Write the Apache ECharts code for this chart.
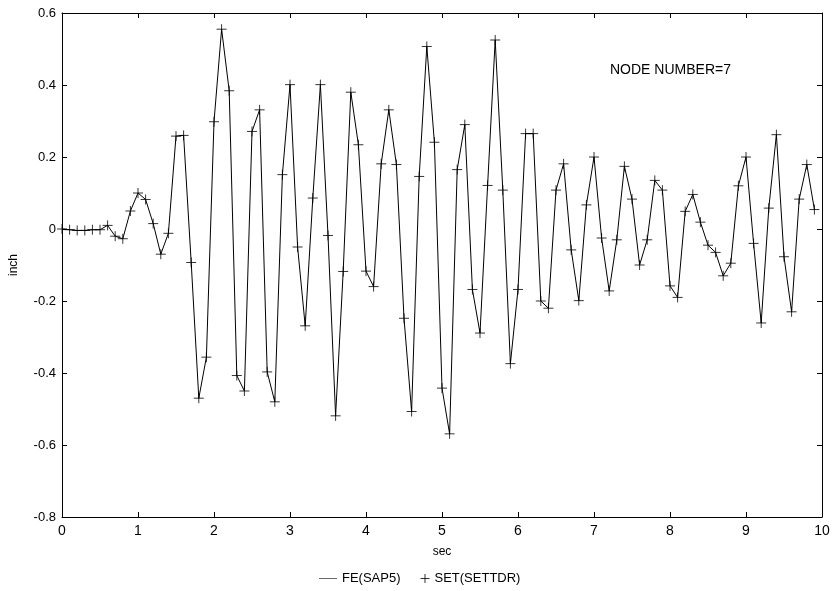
<!DOCTYPE html>
<html>
<head>
<meta charset="utf-8">
<script src="https://cdn.jsdelivr.net/npm/echarts@6/dist/echarts.min.js"></script>
<style>html,body{margin:0;padding:0;background:#fff}#c{width:833px;height:591px}</style>
</head>
<body>
<div id="c"></div>
<script>
const timeSec = [0,0.1,0.2,0.3,0.4,0.5,0.6,0.7,0.8,0.9,
1.0,1.1,1.2,1.3,1.4,1.5,1.6,1.7,1.8,1.9,
2.0,2.1,2.2,2.3,2.4,2.5,2.6,2.7,2.8,2.9,
3.0,3.1,3.2,3.3,3.4,3.5,3.6,3.7,3.8,3.9,
4.0,4.1,4.2,4.3,4.4,4.5,4.6,4.7,4.8,4.9,
5.0,5.1,5.2,5.3,5.4,5.5,5.6,5.7,5.8,5.9,
6.0,6.1,6.2,6.3,6.4,6.5,6.6,6.7,6.8,6.9,
7.0,7.1,7.2,7.3,7.4,7.5,7.6,7.7,7.8,7.9,
8.0,8.1,8.2,8.3,8.4,8.5,8.6,8.7,8.8,8.9,
9.0,9.1,9.2,9.3,9.4,9.5,9.6,9.7,9.8,9.9];
const feSap5 = [0,-0.002,-0.004,-0.004,-0.002,-0.002,0.01,-0.02,-0.027,0.05,
0.10,0.082,0.015,-0.07,-0.012,0.258,0.26,-0.093,-0.47,-0.356,
0.298,0.555,0.384,-0.407,-0.45,0.271,0.331,-0.397,-0.48,0.151,
0.401,-0.05,-0.269,0.086,0.401,-0.018,-0.519,-0.118,0.38,0.234,
-0.117,-0.16,0.181,0.331,0.179,-0.248,-0.507,0.146,0.507,0.241,
-0.442,-0.569,0.165,0.29,-0.168,-0.289,0.121,0.525,0.108,-0.374,
-0.168,0.265,0.265,-0.2,-0.22,0.108,0.181,-0.058,-0.199,0.067,
0.2,-0.025,-0.172,-0.03,0.174,0.083,-0.1,-0.03,0.135,0.108,
-0.158,-0.19,0.049,0.096,0.019,-0.045,-0.065,-0.13,-0.095,0.12,
0.2,-0.04,-0.261,0.058,0.262,-0.077,-0.23,0.083,0.179,0.054];
const setSettdr = feSap5.slice();
const xTicks = [0,1,2,3,4,5,6,7,8,9,10];
const yTicks = [-0.8,-0.6,-0.4,-0.2,0,0.2,0.4,0.6];
const seriesNames = ['FE(SAP5)','SET(SETTDR)'];
const annotation = 'NODE NUMBER=7';

const FONT = '"Liberation Sans", Arial, sans-serif';
const PLUS = 'path://M0,5L10,5M5,0L5,10';
const chart = echarts.init(document.getElementById('c'), null, {renderer:'canvas'});
function axisCommon(){
  return {
    axisLine:{show:true, onZero:false, lineStyle:{color:'#000', width:1}},
    axisTick:{show:true, inside:true, length:5, lineStyle:{color:'#000'}},
    splitLine:{show:false}
  };
}
chart.setOption({
  animation:false,
  backgroundColor:'#fff',
  textStyle:{fontFamily:FONT, color:'#000'},
  grid:{left:62, right:11, top:13, bottom:74, containLabel:false},
  xAxis:[
    Object.assign({type:'value', min:xTicks[0], max:xTicks[xTicks.length-1], interval:1, position:'bottom',
      name:'sec', nameLocation:'middle', nameGap:29, nameTextStyle:{fontSize:12, color:'#000', fontFamily:FONT},
      axisLabel:{fontSize:14, color:'#000', margin:7, fontFamily:FONT}}, axisCommon()),
    Object.assign({type:'value', min:xTicks[0], max:xTicks[xTicks.length-1], interval:1, position:'top',
      axisLabel:{show:false}}, axisCommon())
  ],
  yAxis:[
    Object.assign({type:'value', min:yTicks[0], max:yTicks[yTicks.length-1], interval:0.2, position:'left',
      name:'inch', nameLocation:'middle', nameGap:42, nameTextStyle:{fontSize:12, color:'#000', fontFamily:FONT},
      axisLabel:{fontSize:13, color:'#000', margin:6, fontFamily:FONT,
        formatter:v=>{const r=Math.round(v*10)/10; return r===0?'0':r.toFixed(1);}}}, axisCommon()),
    Object.assign({type:'value', min:yTicks[0], max:yTicks[yTicks.length-1], interval:0.2, position:'right',
      axisLabel:{show:false}}, axisCommon())
  ],
  legend:[
    {data:[{name:seriesNames[0], icon:'path://M0,0L30,0L30,1L0,1Z'}], left:314, top:567,
      itemWidth:18, itemHeight:1, itemGap:10,
      textStyle:{fontSize:13, color:'#000', fontFamily:FONT}, selectedMode:false},
    {data:[{name:seriesNames[1], icon:PLUS}], left:415, top:567,
      itemWidth:9, itemHeight:9, itemGap:10,
      itemStyle:{color:'#000', borderColor:'#000', borderWidth:1},
      textStyle:{fontSize:13, color:'#000', fontFamily:FONT}, selectedMode:false}
  ],
  graphic:[{type:'text', left:610, top:63, style:{text:annotation, fontSize:14, fill:'#000', fontFamily:FONT}}],
  series:[
    {name:seriesNames[0], type:'line', xAxisIndex:0, yAxisIndex:0,
      data:timeSec.map((t,i)=>[t,feSap5[i]]), showSymbol:false, symbol:'none',
      lineStyle:{color:'#000', width:1}, itemStyle:{color:'#000'}},
    {name:seriesNames[1], type:'scatter', xAxisIndex:0, yAxisIndex:0,
      data:timeSec.map((t,i)=>[t,setSettdr[i]]), symbol:PLUS, symbolSize:10,
      itemStyle:{color:'#000', borderColor:'#000', borderWidth:1}}
  ]
});
</script>
</body>
</html>
